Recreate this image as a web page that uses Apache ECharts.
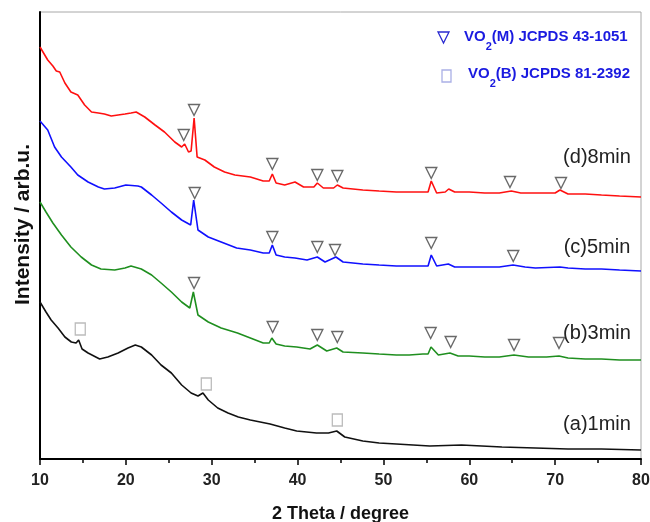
<!DOCTYPE html>
<html>
<head>
<meta charset="utf-8">
<script src="https://cdn.jsdelivr.net/npm/echarts@6/dist/echarts.min.js"></script>
<style>html,body{margin:0;padding:0;background:#fff}#c{width:650px;height:522px}</style>
</head>
<body>
<div id="c"></div>
<script>
// (a) 1 min
var thetaA = [10.0,10.7,11.3,12.1,12.9,13.65,14.2,14.5,14.9,15.6,16.95,17.9,19.1,20.25,21.1,21.8,23.0,24.1,25.3,26.5,27.6,28.4,28.98,29.6,30.7,31.9,33.1,34.5,36.8,38.5,39.9,42.2,43.6,44.56,45.5,47.6,49.5,51.5,55.4,59.1,63.8,67.7,71.5,75.4,80.0];
var intA = [157,147,139,131,122,117,116,119,110,106,100,102,106,111,114,112,104,94,86,74,66,63,66,59,51,46,42,39,35,31,28,26,26,28,22,18,16,15,13,14,12,11,10,10,9];
// (b) 3 min
var thetaB = [10.0,10.7,11.5,12.5,13.6,14.8,16.0,17.1,18.7,19.9,20.6,21.8,23.0,24.1,25.3,26.5,27.45,27.86,28.4,29.6,31.1,33.0,34.8,36.0,36.7,37.0,37.5,38.5,39.9,41.45,42.3,43.4,44.56,45.3,47.6,49.5,51.5,53.0,54.6,55.2,55.54,56.4,57.75,58.7,60.0,61.8,63.5,65.2,66.9,69.0,70.45,71.5,73.5,75.4,77.5,80.0];
var intB = [257,247,236,224,212,202,194,190,189,191,193,190,184,176,167,157,151,167,144,137,131,126,120,116,116,121,115,113,112,110,114,108,111,107,106,105,104,104,105,105,112,104,106,103,103,102,102,104,102,102,103,101,100,100,99,99];
// (c) 5 min
var thetaC = [10.0,10.9,11.7,12.5,13.6,14.4,15.6,16.8,17.5,18.7,20.0,21.4,21.8,23.0,24.1,25.3,26.5,27.55,27.9,28.4,29.6,31.1,32.9,34.5,36.0,36.7,37.06,37.5,38.5,39.7,41.1,42.3,43.2,44.47,45.3,47.6,49.5,51.5,53.0,54.6,55.2,55.57,56.2,57.56,58.3,60.0,61.8,63.5,65.1,66.5,67.7,70.56,71.5,73.5,75.4,77.5,80.0];
var intC = [338,329,312,302,292,284,277,272,270,271,274,273,272,264,256,247,239,234,259,229,222,217,211,209,206,206,214,204,202,201,199,202,197,202,197,195,194,193,193,193,193,204,193,195,192,192,192,192,194,192,191,192,191,190,190,189,188];
// (d) 8 min
var thetaD = [10.0,10.9,11.5,11.9,12.3,12.9,13.6,14.4,15.2,16.0,16.8,17.5,18.3,19.1,19.9,20.6,21.2,22.2,23.4,24.5,25.7,26.5,26.85,27.3,27.6,27.95,28.3,29.2,30.3,31.5,32.7,34.5,36.0,36.7,37.06,37.5,38.5,39.7,40.7,41.9,42.3,43.0,44.2,44.63,45.3,47.6,49.5,51.5,53.0,54.6,55.2,55.57,56.2,57.2,57.6,58.3,60.0,61.8,63.5,64.9,66.0,67.7,70.0,70.56,71.5,73.5,75.4,77.5,80.0];
var intD = [412,399,393,388,387,376,367,364,354,347,346,345,343,344,345,346,347,342,334,327,317,312,315,307,308,341,302,299,292,287,284,282,278,278,285,276,274,277,272,272,276,271,271,274,271,269,268,267,267,267,267,278,266,267,270,267,267,266,266,268,266,266,266,269,265,265,264,263,262];

// VO2(M) peak markers (triangles)
var triThetaD = [26.74,27.94,37.06,42.30,44.63,55.57,64.74,70.68];
var triIntD = [324,349,295,284,283,286,277,276];
var triThetaC = [28.02,37.06,42.30,44.36,55.57,65.12];
var triIntC = [266,222,212,209,216,203];
var triThetaB = [27.94,37.10,42.30,44.63,55.50,57.83,65.21,70.45];
var triIntB = [176,132,124,122,126,117,114,116];
// VO2(B) peak markers (squares)
var sqThetaA = [14.69,29.37,44.63];
var sqIntA = [130,75,39];

var xTicks = [10,20,30,40,50,60,70,80];
var sampleNames = ['(a)1min','(b)3min','(c)5min','(d)8min'];
var sampleColors = ['#111111','#1f8f1f','#1010ff','#ff1010'];

function zip(a, b) { return a.map(function (v, i) { return [v, b[i]]; }); }

var FONT = '"Liberation Sans", Arial, sans-serif';
var triPath = 'path://M0,0 L10,0 L5,10 Z';

function lineSeries(name, t, v, color) {
  return { name: name, type: 'line', data: zip(t, v), showSymbol: false, symbol: 'none',
    lineStyle: { color: color, width: 1.6 }, animation: false, z: 2 };
}
function markSeries(name, t, v, symbol, color, size) {
  return { name: name, type: 'scatter', data: zip(t, v), symbol: symbol, symbolSize: size,
    itemStyle: { color: 'rgba(255,255,255,0)', borderColor: color, borderWidth: 1.4 },
    animation: false, z: 3 };
}

var chart = echarts.init(document.getElementById('c'));
chart.setOption({
  backgroundColor: '#ffffff',
  grid: { left: 40, right: 9, top: 12, bottom: 63, outerBoundsMode: 'none', containLabel: false,
    show: true, borderColor: '#a8a8a8', borderWidth: 1 },
  xAxis: {
    type: 'value', min: 10, max: 80, interval: 10,
    name: '2 Theta / degree', nameLocation: 'middle', nameGap: 46,
    nameTextStyle: { fontFamily: FONT, fontWeight: 'bold', fontSize: 18, color: '#111' },
    axisLine: { show: true, lineStyle: { color: '#000', width: 2 } },
    axisTick: { show: true, length: 6, lineStyle: { color: '#000', width: 1.5 } },
    minorTick: { show: true, splitNumber: 2, length: 4, lineStyle: { color: '#000', width: 1.5 } },
    splitLine: { show: false },
    axisLabel: { fontFamily: FONT, fontWeight: 'bold', fontSize: 16, color: '#222', margin: 14,
      formatter: function (v) { return xTicks.indexOf(v) >= 0 ? String(v) : ''; } }
  },
  yAxis: {
    type: 'value', min: 0, max: 447,
    name: 'Intensity / arb.u.', nameLocation: 'middle', nameGap: 6, nameRotate: 90,
    nameTextStyle: { fontFamily: FONT, fontWeight: 'bold', fontSize: 21, color: '#111', padding: [0, 0, 0, 22] },
    axisLine: { show: true, lineStyle: { color: '#000', width: 2 } },
    axisTick: { show: false }, axisLabel: { show: false }, splitLine: { show: false }
  },
  series: [
    lineSeries(sampleNames[0], thetaA, intA, sampleColors[0]),
    lineSeries(sampleNames[1], thetaB, intB, sampleColors[1]),
    lineSeries(sampleNames[2], thetaC, intC, sampleColors[2]),
    lineSeries(sampleNames[3], thetaD, intD, sampleColors[3]),
    markSeries('VO2(M) d', triThetaD, triIntD, triPath, '#444', 11),
    markSeries('VO2(M) c', triThetaC, triIntC, triPath, '#444', 11),
    markSeries('VO2(M) b', triThetaB, triIntB, triPath, '#444', 11),
    markSeries('VO2(B) a', sqThetaA, sqIntA, 'rect', '#aaaaaa', [10, 12])
  ],
  graphic: [
    { type: 'polygon', shape: { points: [[438, 32], [449, 32], [443.5, 43]] },
      style: { fill: 'none', stroke: '#2a2ad0', lineWidth: 1.3 } },
    { type: 'text', x: 464, y: 37, style: {
      text: '{a|VO}{s|2}{a|(M) JCPDS 43-1051}', verticalAlign: 'middle', align: 'left',
      rich: {
        a: { fontFamily: FONT, fontWeight: 'bold', fontSize: 15, fill: '#1a1ae0', lineHeight: 30, verticalAlign: 'middle' },
        s: { fontFamily: FONT, fontWeight: 'bold', fontSize: 11, fill: '#1a1ae0', lineHeight: 12, verticalAlign: 'bottom' }
      } } },
    { type: 'rect', shape: { x: 442, y: 70, width: 9, height: 12 },
      style: { fill: 'none', stroke: '#aab0e6', lineWidth: 1.3 } },
    { type: 'text', x: 468, y: 74, style: {
      text: '{a|VO}{s|2}{a|(B) JCPDS 81-2392}', verticalAlign: 'middle', align: 'left',
      rich: {
        a: { fontFamily: FONT, fontWeight: 'bold', fontSize: 15, fill: '#1a1ae0', lineHeight: 30, verticalAlign: 'middle' },
        s: { fontFamily: FONT, fontWeight: 'bold', fontSize: 11, fill: '#1a1ae0', lineHeight: 12, verticalAlign: 'bottom' }
      } } },
    { type: 'text', x: 597, y: 157, style: { text: sampleNames[3], align: 'center', verticalAlign: 'middle', fontFamily: FONT, fontSize: 20, fill: '#222' } },
    { type: 'text', x: 597, y: 247, style: { text: sampleNames[2], align: 'center', verticalAlign: 'middle', fontFamily: FONT, fontSize: 20, fill: '#222' } },
    { type: 'text', x: 597, y: 333, style: { text: sampleNames[1], align: 'center', verticalAlign: 'middle', fontFamily: FONT, fontSize: 20, fill: '#222' } },
    { type: 'text', x: 597, y: 424, style: { text: sampleNames[0], align: 'center', verticalAlign: 'middle', fontFamily: FONT, fontSize: 20, fill: '#222' } }
  ]
});
</script>
</body>
</html>
